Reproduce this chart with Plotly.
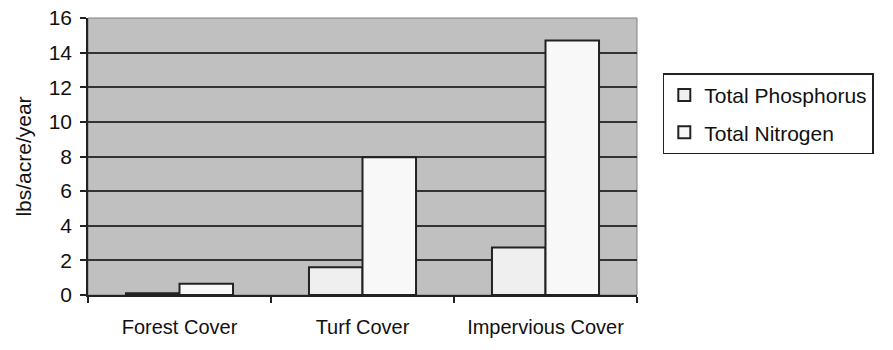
import plotly.graph_objects as go

categories = ["Forest Cover", "Turf Cover", "Impervious Cover"]
phosphorus = [0.1, 1.6, 2.75]
nitrogen = [0.65, 7.95, 14.7]
y_ticks = [0, 2, 4, 6, 8, 10, 12, 14, 16]

font = "Liberation Sans, Arial, sans-serif"

fig = go.Figure()
fig.add_trace(go.Bar(
    x=categories, y=phosphorus, name="Total Phosphorus",
    marker=dict(color="#efefef", line=dict(color="#222222", width=2)),
    legendgroup="p",
))
fig.add_trace(go.Bar(
    x=categories, y=nitrogen, name="Total Nitrogen",
    marker=dict(color="#f8f8f8", line=dict(color="#222222", width=2)),
    legendgroup="n",
))

fig.update_layout(
    width=893, height=350,
    margin=dict(l=88, r=256, t=18, b=55, autoexpand=False),
    paper_bgcolor="white",
    plot_bgcolor="#c0c0c0",
    barmode="group",
    bargap=0.415,
    bargroupgap=0,
    font=dict(family=font, color="#111111"),
    showlegend=True,
    legend=dict(
        x=1.047, xanchor="left", y=0.80, yanchor="top",
        bordercolor="#222222", borderwidth=1.5,
        font=dict(size=21, family=font, color="#111111"),
        tracegroupgap=7,
        traceorder="grouped",
        itemwidth=30,
    ),
    xaxis=dict(
        type="category",
        tickson="boundaries",
        ticks="outside", ticklen=6, tickcolor="#222222", tickwidth=1.5,
        showline=True, linecolor="#222222", linewidth=1.5,
        showgrid=False,
        tickfont=dict(size=20, family=font),
        ticklabelstandoff=13,
        range=[-0.5, 2.5],
        automargin=False,
    ),
    yaxis=dict(
        range=[0, 16],
        tickvals=y_ticks,
        ticks="outside", ticklen=6, tickcolor="#222222", tickwidth=1.5,
        showline=True, linecolor="#222222", linewidth=1.5,
        showgrid=True, gridcolor="#333333", gridwidth=2,
        zeroline=False,
        tickfont=dict(size=21, family=font),
        ticklabelstandoff=4,
        ticklabeloverflow="allow",
        title=dict(text="lbs/acre/year", font=dict(size=21, family=font), standoff=11),
        automargin=False,
    ),
)

fig.add_shape(type="rect", xref="paper", yref="paper", x0=0, y0=0, x1=1, y1=1,
              line=dict(color="#808080", width=1), layer="below")

fig.write_html("out.html", config={"displayModeBar": False},
               post_script="document.body.style.margin='0';")
